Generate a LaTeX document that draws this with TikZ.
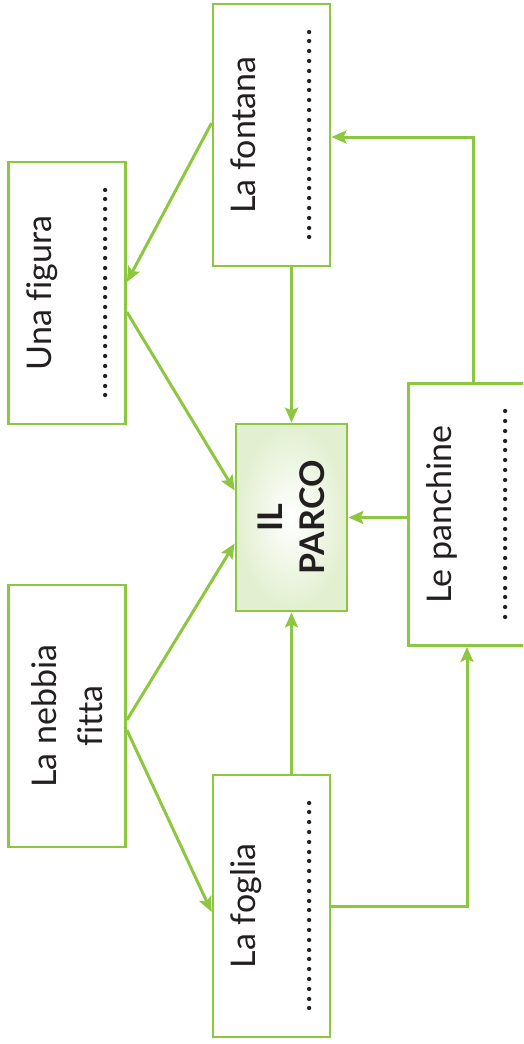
\documentclass[tikz,border=0pt]{standalone}
\usepackage{fontspec}
\setmainfont{Lato}[Ligatures=NoCommon]
\usetikzlibrary{arrows.meta}

\definecolor{parcogreen}{RGB}{141,198,63}
\definecolor{parcofill}{RGB}{226,239,208}
\definecolor{inkgray}{RGB}{35,31,32}
\newcommand{\dotline}{\foreach \i in {1,...,22}{\makebox[9.8pt]{.}}}

\begin{document}
\begin{tikzpicture}[x=1pt, y=-1pt, >={Stealth[length=15pt,width=13pt,inset=3pt]},
	box/.style={rectangle, draw=parcogreen, line width=2.8pt, rotate=90, minimum width=262pt,
		minimum height=117pt, inner sep=0pt, align=center, text=inkgray, font=\fontsize{34}{46}\selectfont},
	link/.style={draw=parcogreen, line width=3pt}]
	\useasboundingbox (0,0) rectangle (523,1044);
	\clip (0,0) rectangle (523,1044);

	% Nodes {fontana, figura, parco, nebbia, foglia, panchine}
	\node [box]	(fontana)	at (271.5,135)	{La fontana\\[10pt]\dotline};
	\node [box]	(figura)	at (67,293)		{Una figura\\[10pt]\dotline};
	\node [box, minimum width=187pt, minimum height=111pt, shade, shading=radial,
		inner color=white, outer color=parcofill, font=\bfseries\fontsize{34}{42}\selectfont]
				(parco)		at (291.5,517.5)	{IL\\PARCO};
	\node [box]	(nebbia)	at (67,716)		{La nebbia\\fitta};
	\node [box]	(foglia)	at (271.5,906)	{La foglia\\[10pt]\dotline};
	\node [box]	(panchine)	at (467,514.5)	{Le panchine\\[10pt]\dotline};

	% Paths
	\draw [->, link]	(parco.east |- fontana.west) -- (parco.east);
	\draw [->, link]	([yshift=12pt]fontana.north) -- ([yshift=11pt]figura.south);
	\draw [->, link]	([yshift=-19pt]figura.south) -- ([yshift=27pt]parco.north);
	\draw [->, link]	([yshift=-4pt]nebbia.south) -- ([yshift=-26pt]parco.north);
	\draw [->, link]	([yshift=-14pt]nebbia.south) -- ([yshift=-6pt]foglia.north);
	\draw [->, link]	(parco.west |- foglia.east) -- (parco.west);
	\draw [->, link]	(panchine.north |- parco.south) -- (parco.south);
	\draw [->, link]	(foglia.south) -| (panchine.west);
	\draw [->, link]	([xshift=6pt]panchine.east) |- ([yshift=-2pt]fontana.south);

\end{tikzpicture}
\end{document}
